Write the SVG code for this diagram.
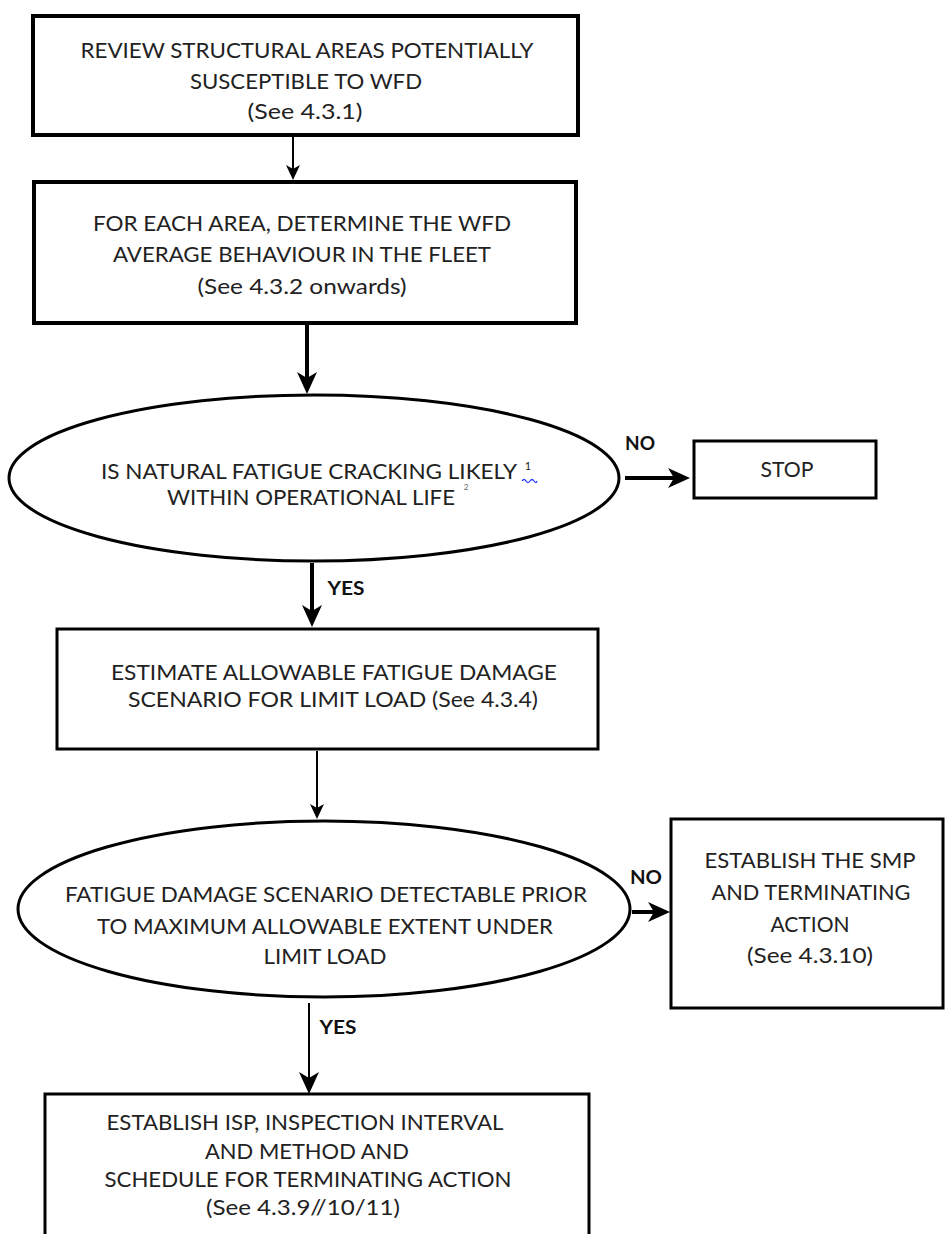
<svg xmlns="http://www.w3.org/2000/svg" width="945" height="1234" viewBox="0 0 945 1234">
<style>
.box{fill:#fff;stroke:#000;stroke-width:3}
.thick{stroke-width:4}
.t{font-family:Lato,"Liberation Sans",sans-serif;font-size:21px;fill:#222;text-anchor:middle}
.lbl{font-family:Lato,"Liberation Sans",sans-serif;font-size:19px;font-weight:bold;fill:#111;text-anchor:middle}
.c2{stroke:#000;stroke-width:2;fill:none}
.c4{stroke:#000;stroke-width:4;fill:none}
</style>
<defs>
<marker id="ahS" markerUnits="userSpaceOnUse" markerWidth="20" markerHeight="20" viewBox="-2 -10 20 20" refX="8" refY="0" orient="auto">
<path d="M0,-7 L15,0 L0,7 L4,0 Z" fill="#000"/>
</marker>
<marker id="ahL" markerUnits="userSpaceOnUse" markerWidth="30" markerHeight="30" viewBox="-2 -15 30 30" refX="12" refY="0" orient="auto">
<path d="M0,-10 L22,0 L0,10 L6,0 Z" fill="#000"/>
</marker>
</defs>
<rect width="945" height="1234" fill="#fff"/>
<g id="connectors">
<line class="c2" x1="293" y1="137" x2="293" y2="173" marker-end="url(#ahS)"/>
<line class="c4" x1="307" y1="325" x2="307" y2="384" marker-end="url(#ahL)"/>
<line class="c4" x1="625" y1="478" x2="680" y2="478" marker-end="url(#ahL)"/>
<line class="c4" x1="312" y1="563" x2="312" y2="617" marker-end="url(#ahL)"/>
<line class="c2" x1="317" y1="751" x2="317" y2="812" marker-end="url(#ahS)"/>
<line class="c4" x1="632" y1="912" x2="660" y2="912" marker-end="url(#ahL)"/>
<line class="c2" x1="309" y1="1003" x2="309" y2="1084" stroke-width="2.5" marker-end="url(#ahL)"/>
<text class="lbl" x="640" y="450" textLength="30" lengthAdjust="spacingAndGlyphs">NO</text>
<text class="lbl" x="346" y="595" textLength="37" lengthAdjust="spacingAndGlyphs">YES</text>
<text class="lbl" x="646" y="884" textLength="32" lengthAdjust="spacingAndGlyphs">NO</text>
<text class="lbl" x="338" y="1034" textLength="37" lengthAdjust="spacingAndGlyphs">YES</text>
</g>
<g id="review">
<rect class="box thick" x="33" y="16" width="545" height="119"/>
<text class="t" x="307" y="58" textLength="453" lengthAdjust="spacingAndGlyphs">REVIEW STRUCTURAL AREAS POTENTIALLY</text>
<text class="t" x="306" y="89" textLength="232" lengthAdjust="spacingAndGlyphs">SUSCEPTIBLE TO WFD</text>
<text class="t" x="305" y="119" textLength="115" lengthAdjust="spacingAndGlyphs">(See 4.3.1)</text>
</g>
<g id="determine">
<rect class="box thick" x="34" y="182" width="542" height="141"/>
<text class="t" x="302" y="231" textLength="418" lengthAdjust="spacingAndGlyphs">FOR EACH AREA, DETERMINE THE WFD</text>
<text class="t" x="302" y="262" textLength="378" lengthAdjust="spacingAndGlyphs">AVERAGE BEHAVIOUR IN THE FLEET</text>
<text class="t" x="302" y="294" textLength="209" lengthAdjust="spacingAndGlyphs">(See 4.3.2 onwards)</text>
</g>
<g id="decision1">
<ellipse class="box" cx="314" cy="478" rx="305" ry="83"/>
<text class="t" x="309" y="479" textLength="416" lengthAdjust="spacingAndGlyphs">IS NATURAL FATIGUE CRACKING LIKELY</text>
<text class="t" x="528" y="470" style="font-size:11px">1</text>
<path d="M522,481 q2,-3 4,0 t4,0 t4,0 t3,0" fill="none" stroke="#2a3cff" stroke-width="1.3"/>
<text class="t" x="311" y="505" textLength="288" lengthAdjust="spacingAndGlyphs">WITHIN OPERATIONAL LIFE</text>
<text class="t" x="466" y="490" style="font-size:8px;fill:#666">2</text>
</g>
<g id="stop">
<rect class="box" x="694" y="441" width="182" height="57"/>
<text class="t" x="787" y="477" textLength="53" lengthAdjust="spacingAndGlyphs">STOP</text>
</g>
<g id="estimate">
<rect class="box" x="57" y="629" width="541" height="120"/>
<text class="t" x="334" y="680" textLength="446" lengthAdjust="spacingAndGlyphs">ESTIMATE ALLOWABLE FATIGUE DAMAGE</text>
<text class="t" x="333" y="707" textLength="410" lengthAdjust="spacingAndGlyphs">SCENARIO FOR LIMIT LOAD (See 4.3.4)</text>
</g>
<g id="decision2">
<ellipse class="box" cx="324" cy="909" rx="306" ry="88"/>
<text class="t" x="326" y="902" textLength="522" lengthAdjust="spacingAndGlyphs">FATIGUE DAMAGE SCENARIO DETECTABLE PRIOR</text>
<text class="t" x="325" y="934" textLength="456" lengthAdjust="spacingAndGlyphs">TO MAXIMUM ALLOWABLE EXTENT UNDER</text>
<text class="t" x="325" y="964" textLength="123" lengthAdjust="spacingAndGlyphs">LIMIT LOAD</text>
</g>
<g id="smp">
<rect class="box" x="671" y="819" width="272" height="189"/>
<text class="t" x="810" y="868" textLength="211" lengthAdjust="spacingAndGlyphs">ESTABLISH THE SMP</text>
<text class="t" x="811" y="900" textLength="199" lengthAdjust="spacingAndGlyphs">AND TERMINATING</text>
<text class="t" x="810" y="932" textLength="79" lengthAdjust="spacingAndGlyphs">ACTION</text>
<text class="t" x="810" y="963" textLength="126" lengthAdjust="spacingAndGlyphs">(See 4.3.10)</text>
</g>
<g id="isp">
<rect class="box" x="45" y="1094" width="544" height="170"/>
<text class="t" x="305" y="1130" textLength="397" lengthAdjust="spacingAndGlyphs">ESTABLISH ISP, INSPECTION INTERVAL</text>
<text class="t" x="307" y="1159" textLength="204" lengthAdjust="spacingAndGlyphs">AND METHOD AND</text>
<text class="t" x="308" y="1187" textLength="407" lengthAdjust="spacingAndGlyphs">SCHEDULE FOR TERMINATING ACTION</text>
<text class="t" x="303" y="1215" textLength="194" lengthAdjust="spacingAndGlyphs">(See 4.3.9//10/11)</text>
</g>
</svg>
